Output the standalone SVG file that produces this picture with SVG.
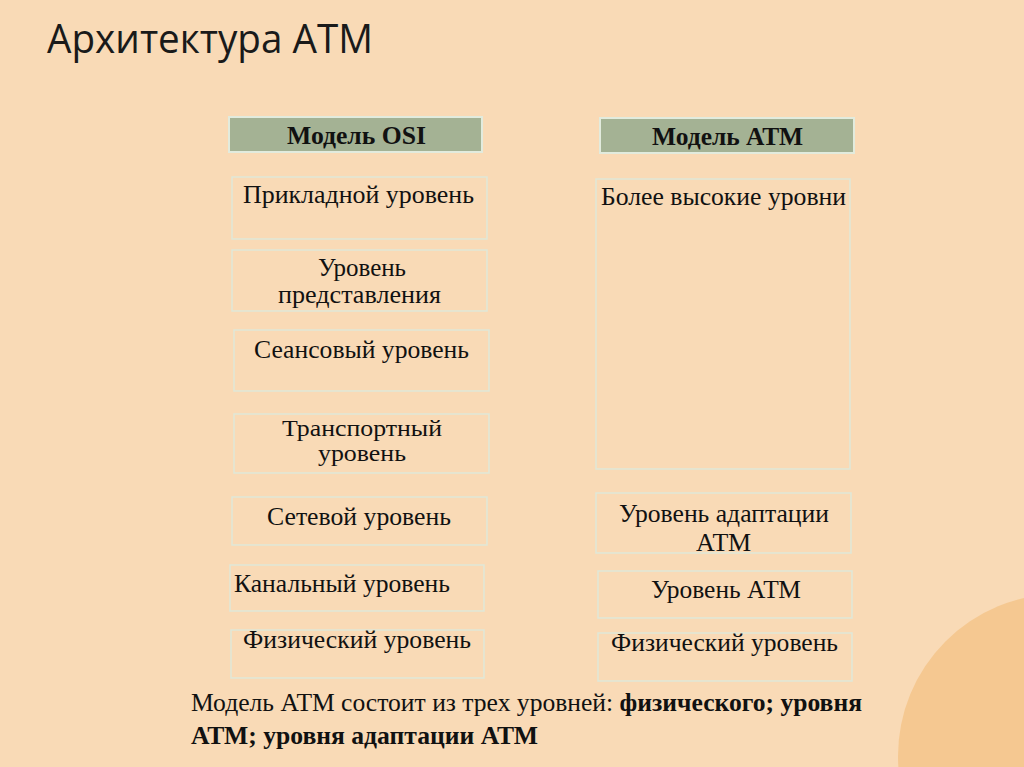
<svg xmlns="http://www.w3.org/2000/svg" width="1024" height="767" viewBox="0 0 1024 767">
<style>
.bg{fill:#F9DAB6}
.hdr{fill:#A4B294;stroke:#E2EBDD;stroke-width:2}
.box{fill:none;stroke:#DFE8D8;stroke-width:1.5}
.t{font-family:"Liberation Serif","Times New Roman",serif;font-size:25px;fill:#111}
.s{font-size:23px}
.b{font-weight:bold}
.title{font-family:"Open Sans","Noto Sans",sans-serif;font-size:41px;fill:#1a1a1a}
</style>
<rect class="bg" x="0" y="0" width="1024" height="767"/>
<circle cx="1060" cy="756" r="162" fill="#F5C891"/>
<text class="title" x="47" y="53" textLength="326" lengthAdjust="spacingAndGlyphs">Архитектура АТМ</text>

<g id="osi-header">
<rect class="hdr" x="229" y="117" width="253" height="35"/>
<text class="t b" x="287" y="144" textLength="139" lengthAdjust="spacingAndGlyphs">Модель OSI</text>
</g>
<g id="atm-header">
<rect class="hdr" x="600" y="118" width="254" height="35"/>
<text class="t b" x="652" y="145" textLength="151" lengthAdjust="spacingAndGlyphs">Модель АТМ</text>
</g>

<g id="osi-app">
<rect class="box" x="232" y="177" width="255" height="62"/>
<text class="t" x="243" y="203" textLength="231" lengthAdjust="spacingAndGlyphs">Прикладной уровень</text>
</g>
<g id="osi-pres">
<rect class="box" x="232" y="250" width="255" height="61"/>
<text class="t" x="318" y="276" textLength="88" lengthAdjust="spacingAndGlyphs">Уровень</text>
<text class="t" x="278" y="303" textLength="163" lengthAdjust="spacingAndGlyphs">представления</text>
</g>
<g id="osi-session">
<rect class="box" x="234" y="330" width="255" height="61"/>
<text class="t" x="254" y="358" textLength="215" lengthAdjust="spacingAndGlyphs">Сеансовый уровень</text>
</g>
<g id="osi-transport">
<rect class="box" x="234" y="414" width="255" height="59"/>
<text class="t s" x="282" y="436" textLength="160" lengthAdjust="spacingAndGlyphs">Транспортный</text>
<text class="t s" x="318" y="461" textLength="88" lengthAdjust="spacingAndGlyphs">уровень</text>
</g>
<g id="osi-network">
<rect class="box" x="232" y="497" width="255" height="48"/>
<text class="t" x="267" y="525" textLength="184" lengthAdjust="spacingAndGlyphs">Сетевой уровень</text>
</g>
<g id="osi-link">
<rect class="box" x="230" y="565" width="254" height="46"/>
<text class="t" x="234" y="592" textLength="216" lengthAdjust="spacingAndGlyphs">Канальный уровень</text>
</g>
<g id="osi-phys">
<rect class="box" x="231" y="630" width="253" height="48"/>
<text class="t" x="243" y="648" textLength="228" lengthAdjust="spacingAndGlyphs">Физический уровень</text>
</g>

<g id="atm-upper">
<rect class="box" x="596" y="179" width="254" height="290"/>
<text class="t" x="601" y="205" textLength="245" lengthAdjust="spacingAndGlyphs">Более высокие уровни</text>
</g>
<g id="atm-aal">
<rect class="box" x="596" y="493" width="255" height="60"/>
<text class="t" x="619" y="522" textLength="210" lengthAdjust="spacingAndGlyphs">Уровень адаптации</text>
<text class="t" x="696" y="551" textLength="55" lengthAdjust="spacingAndGlyphs">АТМ</text>
</g>
<g id="atm-layer">
<rect class="box" x="598" y="571" width="254" height="47"/>
<text class="t" x="651" y="598" textLength="150" lengthAdjust="spacingAndGlyphs">Уровень АТМ</text>
</g>
<g id="atm-phys">
<rect class="box" x="598" y="633" width="254" height="48"/>
<text class="t" x="611" y="651" textLength="227" lengthAdjust="spacingAndGlyphs">Физический уровень</text>
</g>

<g id="connectors"></g>

<g id="caption">
<text class="t" x="191" y="711" textLength="671" lengthAdjust="spacingAndGlyphs">Модель АТМ состоит из трех уровней: <tspan class="b">физического; уровня</tspan></text>
<text class="t b" x="191" y="744" textLength="347" lengthAdjust="spacingAndGlyphs">АТМ; уровня адаптации АТМ</text>
</g>
</svg>
